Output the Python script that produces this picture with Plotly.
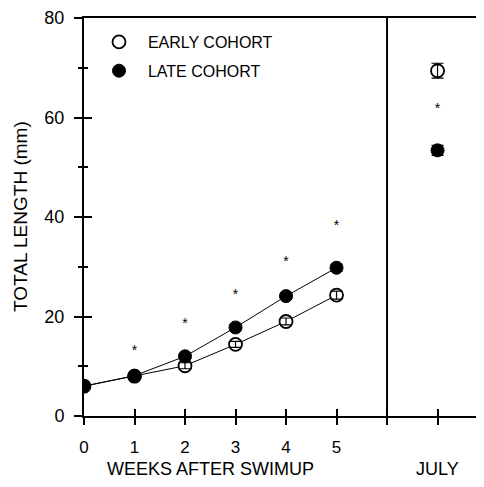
import plotly.graph_objects as go

# ---- data ----
weeks = [0, 1, 2, 3, 4, 5]
july_pos = 7
divider_pos = 6
early_len = [6.0, 8.0, 10.1, 14.4, 19.0, 24.3]
late_len = [6.0, 8.1, 12.0, 17.8, 24.1, 29.8]
early_july = 69.4
late_july = 53.4
early_err = [0.3, 0.4, 0.6, 0.6, 0.7, 0.8, 1.5]
late_err = [0.3, 0.4, 0.5, 0.6, 0.6, 0.7, 1.0]
star_x = [1, 2, 3, 4, 5, 7]
star_y = [12.9, 18.4, 24.3, 30.8, 38.0, 61.7]
x_tickvals = [0, 1, 2, 3, 4, 5, 6, 7]
x_ticktext = ["0", "1", "2", "3", "4", "5", "", ""]
y_tickvals = [0, 20, 40, 60, 80]

FONT = "Liberation Sans, Arial, sans-serif"
x_all = weeks + [july_pos]
early_all = early_len + [early_july]
late_all = late_len + [late_july]

fig = go.Figure()

# connecting lines (weeks only)
for ys in (early_len, late_len):
    fig.add_trace(go.Scatter(x=weeks, y=ys, mode="lines",
                             line=dict(color="black", width=1),
                             showlegend=False, hoverinfo="skip"))

# markers
fig.add_trace(go.Scatter(x=x_all, y=early_all, mode="markers",
                         name="\u00a0\u00a0EARLY COHORT", legendgroup="e",
                         marker=dict(symbol="circle", size=13, color="white",
                                     line=dict(color="black", width=1.8))))
fig.add_trace(go.Scatter(x=x_all, y=late_all, mode="markers",
                         name="\u00a0\u00a0LATE COHORT", legendgroup="l",
                         marker=dict(symbol="circle", size=13, color="black",
                                     line=dict(color="black", width=1))))

# error bars on top of markers
for ys, es in ((early_all, early_err), (late_all, late_err)):
    fig.add_trace(go.Scatter(x=x_all, y=ys, mode="markers",
                             marker=dict(size=1, opacity=0),
                             error_y=dict(type="data", array=es, visible=True,
                                          color="black", thickness=1.2, width=6),
                             showlegend=False, hoverinfo="skip"))

# significance asterisks
fig.add_trace(go.Scatter(x=star_x, y=star_y, mode="text", text=["*"] * len(star_x),
                         textposition="middle center",
                         textfont=dict(family=FONT, size=14, color="black"),
                         showlegend=False, hoverinfo="skip"))

# dummy trace for overlay axes (inside half of crossing ticks)
fig.add_trace(go.Scatter(x=[None], y=[None], xaxis="x2", yaxis="y2",
                         mode="markers", showlegend=False, hoverinfo="skip"))

axis_common = dict(showgrid=False, zeroline=False, tickcolor="black", tickwidth=2)

fig.update_layout(
    width=476, height=479,
    margin=dict(l=76, r=0, t=7, b=70.5),
    paper_bgcolor="white", plot_bgcolor="white",
    font=dict(family=FONT, color="black"),
    showlegend=True,
    legend=dict(x=0.0375, y=0.9825, xanchor="left", yanchor="top",
                bgcolor="rgba(0,0,0,0)", borderwidth=0,
                font=dict(family=FONT, size=16, color="black"),
                traceorder="grouped", tracegroupgap=5),
    xaxis=dict(range=[0, 7.92], tickmode="array", tickvals=x_tickvals,
               ticktext=x_ticktext, ticks="outside", ticklen=7,
               ticklabelstandoff=8, ticklabeloverflow="allow",
               showline=True, linecolor="black", linewidth=2, mirror=True,
               tickfont=dict(family=FONT, size=17, color="black"),
               **axis_common),
    yaxis=dict(range=[0, 80], tickmode="array", tickvals=y_tickvals,
               ticks="outside", ticklen=8, ticklabelstandoff=6,
               ticklabeloverflow="allow",
               minor=dict(dtick=10, tick0=0, ticks="outside", ticklen=4,
                          tickcolor="black", tickwidth=2),
               showline=True, linecolor="black", linewidth=2,
               tickfont=dict(family=FONT, size=18, color="black"),
               **axis_common),
    xaxis2=dict(range=[0, 7.92], overlaying="x", anchor="y2", side="bottom",
                tickmode="array", tickvals=x_tickvals, ticks="inside", ticklen=7,
                showticklabels=False, showline=False, **axis_common),
    yaxis2=dict(range=[0, 80], overlaying="y", anchor="x2", side="left",
                tickmode="array", tickvals=y_tickvals, ticks="inside", ticklen=8,
                minor=dict(dtick=10, tick0=0, ticks="inside", ticklen=4,
                           tickcolor="black", tickwidth=2),
                showticklabels=False, showline=False, **axis_common),
    shapes=[dict(type="line", xref="x", yref="paper", x0=divider_pos, x1=divider_pos,
                 y0=0, y1=1, line=dict(color="black", width=2))],
    annotations=[
        dict(text="WEEKS AFTER SWIMUP", x=2.5, y=-0.133, xref="x", yref="paper",
             showarrow=False, font=dict(family=FONT, size=18, color="black"),
             yanchor="middle"),
        dict(text="JULY", x=july_pos, y=-0.133, xref="x", yref="paper",
             showarrow=False, font=dict(family=FONT, size=18, color="black"),
             yanchor="middle"),
        dict(text="TOTAL LENGTH (mm)", x=-0.16, y=0.5, xref="paper", yref="paper",
             textangle=-90, showarrow=False,
             font=dict(family=FONT, size=19, color="black"),
             xanchor="center", yanchor="middle"),
    ],
)

fig.write_html("out.html")
